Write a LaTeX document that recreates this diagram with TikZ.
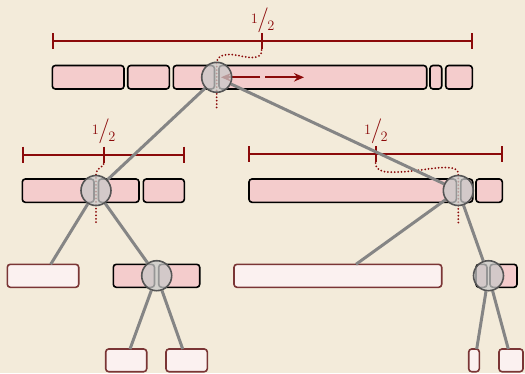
\documentclass[tikz,border=0pt]{standalone}
\usepackage{fontspec}
\usetikzlibrary{arrows.meta}
\definecolor{bgc}{HTML}{F3EBDA}
\definecolor{rulec}{HTML}{8B0A0A}
\definecolor{pinkc}{HTML}{F4CCCC}
\definecolor{leafc}{HTML}{FBF1F0}
\definecolor{leafb}{HTML}{7A3535}
\definecolor{edgec}{HTML}{858585}
\definecolor{circf}{HTML}{C9C9C9}
\definecolor{circb}{HTML}{555555}
\pgfdeclarelayer{canvas}\pgfdeclarelayer{bg}\pgfdeclarelayer{edges}\pgfsetlayers{canvas,bg,edges,main}
\tikzset{
 pinkbox/.style={draw=black, fill=pinkc, line width=1.6pt, rounded corners=3pt, inner sep=0pt, outer sep=0pt},
 leafbox/.style={draw=leafb, fill=leafc, line width=1.6pt, rounded corners=3pt, inner sep=0pt, outer sep=0pt},
 pivotnode/.style={circle, draw=circb, fill=circf, fill opacity=0.75, line width=1.6pt, minimum size=30pt, inner sep=0pt},
 treeedge/.style={draw=edgec, line width=3pt},
 rulerline/.style={draw=rulec, line width=2pt},
 dotline/.style={draw=rulec, line width=2pt, line cap=round, dash pattern=on 0pt off 3.4pt},
 halflabel/.style={text=rulec, inner sep=0pt, anchor=base},
 shiftarrow/.style={draw=rulec, line width=2pt, -{Stealth[length=10pt,width=8.5pt]}}
}
\newcommand\mybox[6]{\node[#1, minimum width={(#4)-(#3)}, minimum height={(#6)-(#5)}] (#2) at ({((#3)+(#4))/2},{((#5)+(#6))/2}) {};}
\newcommand\halffrac{\raisebox{3.5pt}{\fontsize{14.4}{15}\selectfont 1}\kern-0.5pt{\fontsize{25}{26}\selectfont/}\kern-1.5pt\raisebox{-3.8pt}{\fontsize{14.4}{15}\selectfont 2}}
\begin{document}
\begin{tikzpicture}[x=1pt,y=-1pt]
\begin{pgfonlayer}{canvas}
\fill[bgc] (0,0) rectangle (525,373);
\end{pgfonlayer}
\useasboundingbox (0,0) rectangle (525,373);

% pivots (main layer, on top)
\node[pivotnode] (c0) at (216.7,77.3) {};
\node[pivotnode] (c1) at (96,190.5) {};
\node[pivotnode] (c2) at (458.3,190.5) {};
\node[pivotnode] (c3) at (156.7,275.7) {};
\node[pivotnode] (c4) at (488.5,275.7) {};

\begin{pgfonlayer}{bg}
% rulers
\draw[rulerline] (52.7,33) -- (52.7,49) (52.7,41) -- (472,41) (472,33) -- (472,49) (261.7,33) -- (261.7,49);
\draw[rulerline] (22.7,146.5) -- (22.7,163) (22.7,155) -- (184,155) (184,146.5) -- (184,163) (103.7,146.5) -- (103.7,163);
\draw[rulerline] (249.3,146) -- (249.3,162) (249.3,154) -- (501.7,154) (501.7,146) -- (501.7,162) (375.7,146) -- (375.7,162);
% labels
\node[halflabel] (h0) at (262.6,26.5) {\halffrac};
\node[halflabel] (h1) at (103.7,137.5) {\halffrac};
\node[halflabel] (h2) at (376,137.5) {\halffrac};
% dotted guides
\draw[dotline] (261.7,50) .. controls (261.7,60) and (250,58) .. (238,55.5) .. controls (226,53) and (216.7,55) .. (216.7,63) -- (216.7,108);
\draw[dotline] (103.7,164) .. controls (103.7,167) and (96,168) .. (96,174) -- (96,223);
\draw[dotline] (375.7,163) .. controls (375.7,172) and (385,172.5) .. (400,172) .. controls (420,171) and (440,166) .. (452,168) .. controls (457,169) and (458.3,171) .. (458.3,175) -- (458.3,224);
% top row
\mybox{pinkbox}{b1}{52.3}{124}{65.5}{89}
\mybox{pinkbox}{b2}{127.7}{169.3}{65.5}{89}
\mybox{pinkbox}{b3}{173.3}{214.5}{65.5}{89}
\mybox{pinkbox}{b4}{219}{426.7}{65.5}{89}
\mybox{pinkbox}{b5}{430}{441.7}{65.5}{89}
\mybox{pinkbox}{b6}{445.7}{472.3}{65.5}{89}
% level 2 left
\mybox{pinkbox}{a1}{22.3}{94}{179}{202.3}
\mybox{pinkbox}{a2}{98.5}{139}{179}{202.3}
\mybox{pinkbox}{a3}{143.3}{184.3}{179}{202.3}
% level 2 right
\mybox{pinkbox}{d1}{249}{456.3}{179}{202.3}
\mybox{pinkbox}{d2}{460.8}{472.7}{179}{202.3}
\mybox{pinkbox}{d3}{476}{502.3}{179}{202.3}
% level 3
\mybox{leafbox}{l1}{7.3}{78.7}{264.3}{287.3}
\mybox{pinkbox}{e1}{113.3}{154.5}{264.3}{287.3}
\mybox{pinkbox}{e2}{158.7}{199.7}{264.3}{287.3}
\mybox{leafbox}{l2}{234}{441.7}{264.3}{287.3}
\mybox{pinkbox}{f1}{476}{487}{264.3}{287.3}
\mybox{pinkbox}{f2}{490}{517}{264.3}{287.3}
% level 4
\mybox{leafbox}{l3}{105.7}{146.7}{349}{371.7}
\mybox{leafbox}{l4}{166}{207.3}{349}{371.7}
\mybox{leafbox}{l5}{468.7}{479.3}{349}{371.7}
\mybox{leafbox}{l6}{499}{523}{349}{371.7}
% shift arrows
\draw[shiftarrow] (260,77.3) -- (221,77.3);
\draw[shiftarrow] (265,77.3) -- (304,77.3);
\end{pgfonlayer}

\begin{pgfonlayer}{edges}
\coordinate (t1) at (50.7,264.3);
\coordinate (t2) at (356,264.3);
\coordinate (t3) at (130,349);
\coordinate (t4) at (182.7,349);
\coordinate (t5) at (476.7,349);
\coordinate (t6) at (508.3,349);
\draw[treeedge] (c0) -- (c1);
\draw[treeedge] (c0) -- (c2);
\draw[treeedge] (c1) -- (t1);
\draw[treeedge] (c1) -- (c3);
\draw[treeedge] (c2) -- (t2);
\draw[treeedge] (c2) -- (c4);
\draw[treeedge] (c3) -- (t3);
\draw[treeedge] (c3) -- (t4);
\draw[treeedge] (c4) -- (t5);
\draw[treeedge] (c4) -- (t6);
\end{pgfonlayer}
\end{tikzpicture}
\end{document}
